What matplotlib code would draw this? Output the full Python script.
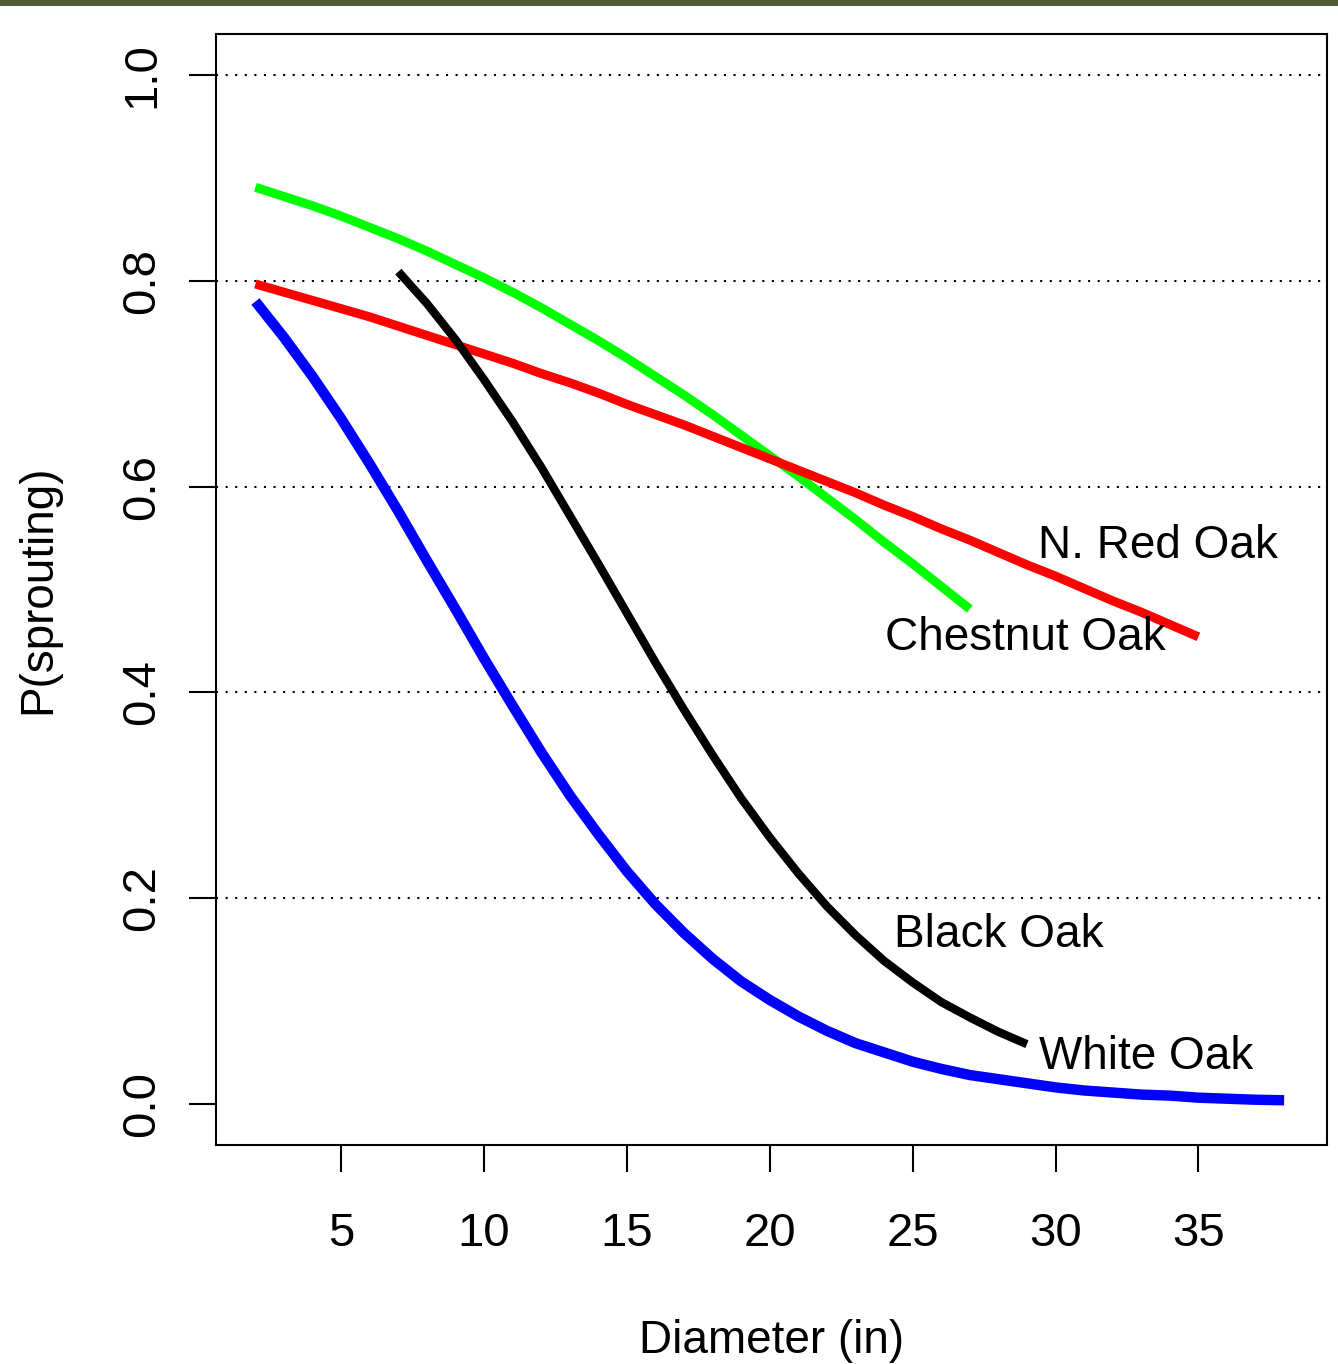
import matplotlib
matplotlib.use("Agg")
import matplotlib.pyplot as plt
from matplotlib.patches import Rectangle

plt.rcParams['font.family'] = ['Liberation Sans', 'DejaVu Sans']

# ---- data ----
white_x = list(range(2, 39))
white_y = [0.780, 0.745, 0.707, 0.666, 0.622, 0.576, 0.528, 0.481, 0.433, 0.387,
           0.342, 0.300, 0.262, 0.226, 0.194, 0.166, 0.141, 0.119, 0.101, 0.085,
           0.071, 0.059, 0.050, 0.041, 0.034, 0.028, 0.024, 0.020, 0.016, 0.013,
           0.011, 0.009, 0.008, 0.006, 0.005, 0.004, 0.0035]

black_x = list(range(7, 30))
black_y = [0.809, 0.778, 0.743, 0.704, 0.663, 0.619, 0.572, 0.525, 0.477, 0.429,
           0.383, 0.339, 0.297, 0.259, 0.224, 0.192, 0.164, 0.139, 0.118, 0.099,
           0.084, 0.070, 0.058]

chestnut_x = list(range(2, 28))
chestnut_y = [0.891, 0.882, 0.873, 0.863, 0.852, 0.841, 0.829, 0.816, 0.803, 0.789,
              0.774, 0.758, 0.742, 0.725, 0.707, 0.689, 0.670, 0.650, 0.630, 0.610,
              0.589, 0.568, 0.546, 0.525, 0.503, 0.481]

redoak_x = list(range(2, 36))
redoak_y = [0.797, 0.789, 0.781, 0.773, 0.765, 0.756, 0.747, 0.738, 0.729, 0.720,
            0.710, 0.701, 0.691, 0.680, 0.670, 0.660, 0.649, 0.638, 0.627, 0.616,
            0.605, 0.594, 0.582, 0.571, 0.559, 0.548, 0.536, 0.524, 0.513, 0.501,
            0.489, 0.478, 0.466, 0.454]

label_names = ["N. Red Oak", "Chestnut Oak", "Black Oak", "White Oak"]
label_x = [33.57, 28.95, 28.0, 33.17]
label_y = [0.531, 0.441, 0.152, 0.034]

x_ticks = [5, 10, 15, 20, 25, 30, 35]
y_ticks = [0.0, 0.2, 0.4, 0.6, 0.8, 1.0]
y_tick_labels = ["0.0", "0.2", "0.4", "0.6", "0.8", "1.0"]
grid_levels = [0.2, 0.4, 0.6, 0.8, 1.0]

W, H = 1338, 1364
fig = plt.figure(figsize=(W / 100, H / 100), dpi=100)
fig.patch.set_facecolor('white')
fig.patches.append(Rectangle((0, 1 - 6 / H), 1, 6 / H, transform=fig.transFigure,
                             facecolor='#4f5b31', edgecolor='none', zorder=10))

ax = fig.add_axes([216 / W, (H - 1145) / H, (1327 - 216) / W, (1145 - 34) / H])
ax.set_xlim(0.62, 39.5)
ax.set_ylim(-0.04, 1.04)

for g in grid_levels:
    ax.axhline(g, color='black', lw=1.5, linestyle=(0, (1, 3.6)), zorder=1)

ax.plot(chestnut_x, chestnut_y, color='#00ff00', lw=6.5, solid_capstyle='butt', zorder=3)
ax.plot(redoak_x, redoak_y, color='#ff0000', lw=6.5, solid_capstyle='butt', zorder=3)
ax.plot(black_x, black_y, color='black', lw=6.0, solid_capstyle='butt', zorder=3)
ax.plot(white_x, white_y, color='#0000ff', lw=7.5, solid_capstyle='butt', zorder=3)

for name, tx, ty in zip(label_names, label_x, label_y):
    ax.text(tx, ty, name, ha='center', va='baseline', fontsize=33, color='black', zorder=4)

ax.set_xticks(x_ticks)
ax.set_xticklabels([str(t) for t in x_ticks])
ax.set_yticks(y_ticks)
ax.set_yticklabels(y_tick_labels, rotation=90, va='center')
ax.tick_params(axis='both', direction='out', length=19.5, width=1.5, labelsize=34,
               color='black')
ax.tick_params(axis='x', pad=29)
ax.tick_params(axis='y', pad=18)
for s in ax.spines.values():
    s.set_linewidth(1.5)
    s.set_color('black')

ax.set_xlabel("Diameter (in)", fontsize=33, labelpad=45)
ax.set_ylabel("P(sprouting)", fontsize=33, labelpad=43)

fig.savefig("out.png", dpi=100, facecolor='white')
